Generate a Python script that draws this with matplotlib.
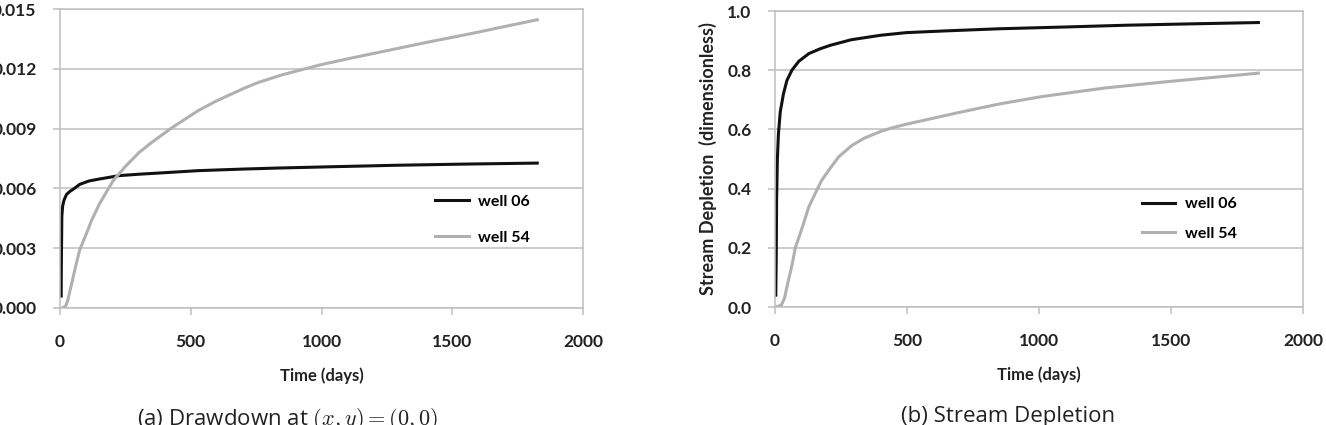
import matplotlib
matplotlib.use("Agg")
from matplotlib import pyplot as plt
from matplotlib.ticker import FormatStrFormatter

# Drawdown at (x,y)=(0,0)
t_dd_06 = [4.5, 5, 7, 10, 15, 25, 38, 55, 75, 110, 150, 226, 300, 377, 528, 700, 830, 1050, 1283, 1550, 1825]
dd_06 = [0.0006, 0.0020, 0.0046, 0.0051, 0.0054, 0.0057, 0.00585, 0.0060, 0.0062, 0.00637, 0.00647, 0.00664, 0.00671, 0.00677, 0.00689, 0.00697, 0.00702, 0.00709, 0.00716, 0.00722, 0.00727]
t_dd_54 = [8, 22, 30, 45, 60, 75, 100, 121, 150, 181, 204, 250, 302, 350, 423, 528, 600, 700, 755, 850, 996, 1100, 1283, 1400, 1585, 1700, 1825]
dd_54 = [0.0, 0.0001, 0.0004, 0.00125, 0.0021, 0.0029, 0.0037, 0.0044, 0.0052, 0.0059, 0.0064, 0.0071, 0.0078, 0.0083, 0.0090, 0.0099, 0.0104, 0.0110, 0.0113, 0.0117, 0.0122, 0.0125, 0.0130, 0.01332, 0.0138, 0.01412, 0.01446]

# Stream depletion
t_sd_06 = [3, 5, 6, 9, 13, 20, 32, 45, 64, 90, 128, 170, 209, 289, 400, 498, 651, 851, 1100, 1333, 1600, 1831]
sd_06 = [0.04, 0.20, 0.36, 0.50, 0.585, 0.66, 0.72, 0.765, 0.80, 0.83, 0.856, 0.872, 0.884, 0.903, 0.918, 0.927, 0.933, 0.940, 0.946, 0.952, 0.957, 0.961]
t_sd_54 = [3, 24, 36, 48, 64, 77, 100, 128, 161, 177, 210, 241, 290, 337, 400, 442, 500, 600, 691, 850, 1012, 1250, 1494, 1700, 1831]
sd_54 = [0.0, 0.006, 0.03, 0.079, 0.14, 0.20, 0.26, 0.338, 0.40, 0.428, 0.47, 0.507, 0.545, 0.570, 0.593, 0.605, 0.618, 0.638, 0.656, 0.686, 0.711, 0.740, 0.762, 0.779, 0.790]

labels = ["well 06", "well 54"]
x_ticks = [0, 500, 1000, 1500, 2000]

GRID = "#bfbfbf"
BLACK = "#111111"
GREY = "#b0b0b0"
TXT = "#222222"

plt.rcParams['font.family'] = ['Lato', 'DejaVu Sans']
plt.rcParams['mathtext.fontset'] = 'cm'

fig = plt.figure(figsize=(13.26, 4.25), dpi=100)
ax1 = fig.add_axes([60 / 1326, 117 / 425, 523 / 1326, 299 / 425])
ax2 = fig.add_axes([775 / 1326, 118 / 425, 528 / 1326, 296 / 425])


def style_axes(ax, ymax, yticks, fmt):
    ax.set_xlim(0, 2000)
    ax.set_ylim(0, ymax)
    ax.set_xticks(x_ticks)
    ax.set_yticks(yticks)
    ax.yaxis.set_major_formatter(FormatStrFormatter(fmt))
    ax.grid(axis="y", color=GRID, linewidth=1.1)
    ax.set_axisbelow(True)
    for s in ax.spines.values():
        s.set_color(GRID)
        s.set_linewidth(1.1)
    ax.tick_params(axis="both", direction="out", length=5, width=1.1, color=GRID,
                   labelsize=12.5)
    ax.tick_params(axis="x", pad=14)
    ax.tick_params(axis="y", pad=12)
    for lab in ax.get_xticklabels() + ax.get_yticklabels():
        lab.set_fontweight("bold")
        lab.set_color(TXT)
    ax.set_xlabel("Time (days)", fontsize=12, fontweight="bold", labelpad=12, color=TXT)


ax1.plot(t_dd_06, dd_06, color=BLACK, linewidth=2.2, label=labels[0])
ax1.plot(t_dd_54, dd_54, color=GREY, linewidth=2.2, label=labels[1])
style_axes(ax1, 0.015, [0, 0.003, 0.006, 0.009, 0.012, 0.015], "%.3f")
ax1.legend(loc="center left", bbox_to_anchor=(0.69, 0.295), frameon=False,
           handlelength=2.1, handletextpad=0.6, labelspacing=1.35,
           prop={"weight": "bold", "size": 11.5})

ax2.plot(t_sd_06, sd_06, color=BLACK, linewidth=2.2, label=labels[0])
ax2.plot(t_sd_54, sd_54, color=GREY, linewidth=2.2, label=labels[1])
style_axes(ax2, 1.0, [0, 0.2, 0.4, 0.6, 0.8, 1.0], "%.1f")
ax2.set_ylabel("Stream Depletion  (dimensionless)", fontsize=13, fontweight="bold",
               color=TXT, labelpad=7)
ax2.legend(loc="center left", bbox_to_anchor=(0.667, 0.298), frameon=False,
           handlelength=2.1, handletextpad=0.6, labelspacing=0.95,
           prop={"weight": "bold", "size": 11.5})

fig.text(288 / 1326, 19 / 425, r"(a) Drawdown at $(x,y) = (0,0)$", ha="center", va="top",
         fontsize=16, color=TXT, family=["Open Sans", "DejaVu Sans"])
fig.text(1008 / 1326, 19 / 425, "(b) Stream Depletion", ha="center", va="top",
         fontsize=16, color=TXT, family=["Open Sans", "DejaVu Sans"])

fig.savefig("out.png", dpi=100)
